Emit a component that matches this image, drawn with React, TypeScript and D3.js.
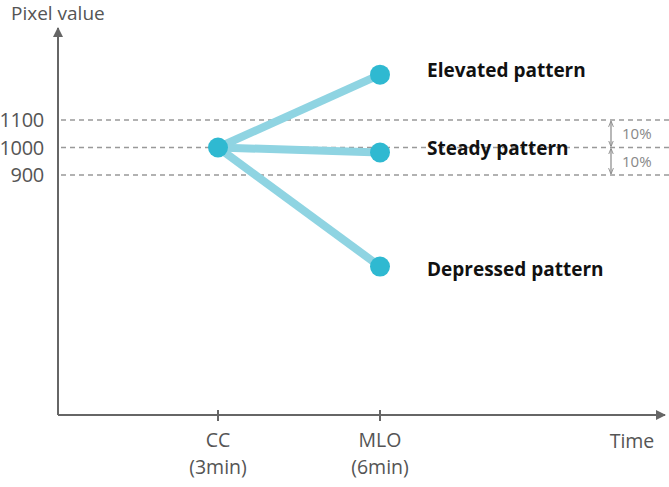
import React from "react";
import * as d3 from "d3";

const times = ["CC", "MLO"];
const timeSubs = ["(3min)", "(6min)"];
const patterns = ["Elevated pattern", "Steady pattern", "Depressed pattern"];
const startValues = [1000, 1000, 1000];
const endValues = [1265, 982, 567];
const yTicks = [1100, 1000, 900];
const bandLabels = ["10%", "10%"];

const W = 669;
const H = 487;

export default function App() {
  const x = d3.scalePoint<string>().domain(times).range([218, 380]);
  const y = d3.scaleLinear().domain([900, 1100]).range([175, 120]);
  const axisX = 58;
  const axisY = 415;
  const grey = "#666";
  const txt = "#555";
  const lineCol = "#8fd4e2";
  const dotCol = "#2fb9d1";
  const font = "'Open Sans', 'Noto Sans', sans-serif";
  const labelNudge = [-4, -4, 3];

  return (
    <svg width={W} height={H} style={{ position: "absolute", left: 0, top: 0 }} fontFamily={font}>
      <defs>
        <marker id="arr" viewBox="0 0 10 10" refX="9" refY="5" markerWidth="5" markerHeight="5" orient="auto">
          <path d="M0,0 L10,5 L0,10 z" fill={grey} />
        </marker>
        <marker id="sarr" viewBox="0 0 10 10" refX="9" refY="5" markerWidth="5" markerHeight="5" orient="auto-start-reverse">
          <path d="M0,1 L10,5 L0,9" fill="none" stroke="#888" strokeWidth={1.5} />
        </marker>
      </defs>
      <text x={11} y={20} fontSize={19} fill={txt}>Pixel value</text>
      {/* grid */}
      {yTicks.map((t) => (
        <g key={t}>
          <line x1={axisX + 3} x2={W} y1={y(t)} y2={y(t)} stroke="#999" strokeWidth={1.3} strokeDasharray="5,4" />
          <text x={44} y={y(t)} dy="0.36em" textAnchor="end" fontSize={20} fill={txt} letterSpacing={-0.3}>{t}</text>
        </g>
      ))}
      {/* axes */}
      <line x1={axisX} x2={axisX} y1={axisY} y2={28} stroke={grey} strokeWidth={2} markerEnd="url(#arr)" />
      <line x1={axisX} x2={665} y1={axisY} y2={axisY} stroke={grey} strokeWidth={2} markerEnd="url(#arr)" />
      {times.map((t, i) => (
        <g key={t}>
          <line x1={x(t)} x2={x(t)} y1={axisY - 5} y2={axisY + 6} stroke={grey} strokeWidth={2} />
          <text x={x(t)} y={447} textAnchor="middle" fontSize={19.5} fill={txt}>{t}</text>
          <text x={x(t)} y={474} textAnchor="middle" fontSize={19.5} fill={txt}>{timeSubs[i]}</text>
        </g>
      ))}
      <text x={632} y={448} textAnchor="middle" fontSize={19.5} fill={txt}>Time</text>
      {/* lines */}
      {patterns.map((p, i) => (
        <line key={p} x1={x(times[0])} y1={y(startValues[i])} x2={x(times[1])} y2={y(endValues[i])}
          stroke={lineCol} strokeWidth={8} />
      ))}
      {patterns.map((p, i) => (
        <circle key={p + "e"} cx={x(times[1])} cy={y(endValues[i])} r={10} fill={dotCol} />
      ))}
      <circle cx={x(times[0])} cy={y(startValues[0])} r={10} fill={dotCol} />
      {patterns.map((p, i) => (
        <text key={p + "t"} x={427} y={y(endValues[i]) + labelNudge[i]} dy="0.35em" fontSize={19}
          fontWeight="bold" fill="#111">{p}</text>
      ))}
      {/* bands */}
      {bandLabels.map((b, i) => {
        const y1 = y(yTicks[i]);
        const y2 = y(yTicks[i + 1]);
        return (
          <g key={i}>
            <line x1={611} x2={611} y1={y1 + 1.5} y2={y2 - 1.5} stroke="#888" strokeWidth={1.2}
              markerStart="url(#sarr)" markerEnd="url(#sarr)" />
            <text x={622} y={(y1 + y2) / 2} dy="0.35em" fontSize={15} fill="#888">{b}</text>
          </g>
        );
      })}
    </svg>
  );
}
